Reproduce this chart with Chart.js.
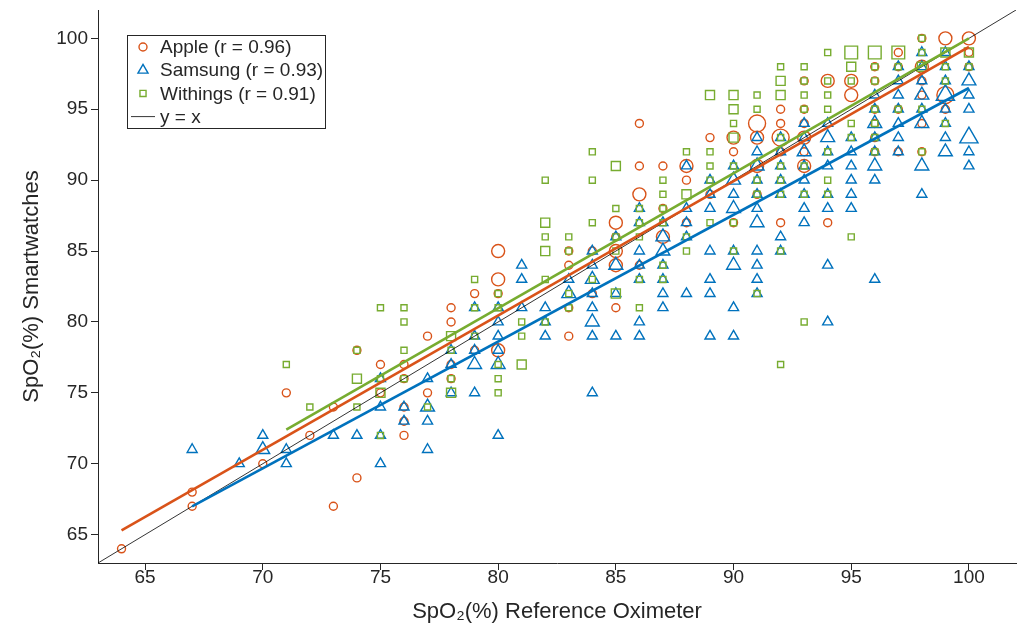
<!DOCTYPE html>
<html><head><meta charset="utf-8">
<script src="https://cdn.jsdelivr.net/npm/chart.js@4.4.0/dist/chart.umd.min.js"></script>
<style>html,body{margin:0;padding:0;background:#fff;} #wrap{width:1019px;height:633px;position:relative;}</style>
</head><body><div id="wrap"><canvas id="c" width="1019" height="633"></canvas></div>
<script>
// [reference SpO2, smartwatch SpO2, number of overlapping observations]
const apple = [
[64,64,1],[67,68,1],[67,67,1],[70,70,1],[71,75,1],[72,72,1],[73,74,1],[73,67,1],[74,78,1],[74,69,1],
[75,77,1],[75,75,1],[76,77,1],[76,76,1],[76,74,1],[76,73,1],[76,72,1],[77,79,1],[77,75,1],
[78,81,1],[78,80,1],[78,77,1],[78,76,1],[79,82,1],[79,78,1],[80,85,2],[80,83,2],[80,82,1],[80,78,2],
[83,85,1],[83,84,1],[83,81,1],[83,79,1],[84,85,1],[84,82,1],[85,87,2],[85,86,1],[85,85,2],[85,84,2],[85,81,1],
[86,94,1],[86,91,1],[86,89,2],[86,84,1],[87,91,1],[87,88,1],[87,86,2],[88,91,2],[88,90,1],[88,87,1],
[89,93,1],[89,89,1],[90,93,2],[90,92,1],[90,87,1],[91,94,3],[91,93,2],[91,91,2],[91,89,1],
[92,95,1],[92,94,1],[92,93,3],[92,92,1],[92,87,1],[93,97,1],[93,95,1],[93,94,1],[93,93,2],[93,92,1],[93,91,2],
[94,97,2],[94,87,1],[95,97,2],[95,96,2],[96,98,1],[96,97,1],[96,95,1],[96,94,1],[96,93,1],[96,92,1],
[97,99,1],[97,98,1],[97,95,1],[97,92,1],[98,100,1],[98,98,2],[98,97,1],[98,96,1],[98,94,1],[98,92,1],
[99,100,2],[99,96,3],[99,95,1],[100,100,2],[100,99,1],[100,98,1]
];
const samsung = [
[67,71,1],[69,70,1],[70,72,1],[70,71,2],[71,71,1],[71,70,1],[73,72,1],[74,72,1],
[75,76,1],[75,74,1],[75,72,1],[75,70,1],[76,74,1],[76,73,1],[77,76,1],[77,74,2],[77,73,1],[77,71,1],
[78,78,1],[78,77,1],[78,75,1],[79,81,1],[79,79,1],[79,78,1],[79,77,2],[79,75,1],
[80,81,1],[80,80,1],[80,79,1],[80,78,1],[80,77,2],[80,72,1],[81,84,1],[81,83,1],[81,81,1],
[82,81,1],[82,80,1],[82,79,1],[83,83,1],[83,82,2],
[84,85,1],[84,84,1],[84,83,2],[84,82,1],[84,81,1],[84,80,2],[84,79,1],[84,75,1],
[85,86,1],[85,84,2],[85,82,1],[85,79,1],
[86,88,1],[86,87,1],[86,85,1],[86,84,1],[86,83,1],[86,80,1],[86,79,1],
[87,87,1],[87,86,2],[87,85,2],[87,84,1],[87,83,1],[87,82,1],[87,81,1],
[88,91,1],[88,88,1],[88,87,1],[88,86,1],[88,82,1],
[89,90,1],[89,89,1],[89,88,1],[89,85,1],[89,83,1],[89,82,1],[89,79,1],
[90,91,1],[90,90,2],[90,89,1],[90,88,2],[90,85,1],[90,84,2],[90,81,1],[90,79,1],
[91,93,1],[91,92,1],[91,91,2],[91,90,1],[91,89,1],[91,88,1],[91,87,2],[91,85,1],[91,84,1],[91,83,1],[91,82,1],
[92,93,1],[92,92,1],[92,91,1],[92,90,1],[92,89,1],[92,86,1],[92,85,1],
[93,94,1],[93,93,1],[93,92,2],[93,91,1],[93,90,1],[93,89,1],[93,88,1],[93,87,1],
[94,94,1],[94,93,2],[94,92,1],[94,91,1],[94,89,1],[94,88,1],[94,84,1],[94,80,1],
[95,93,1],[95,92,1],[95,91,1],[95,90,1],[95,89,1],[95,88,1],
[96,96,1],[96,95,1],[96,94,2],[96,93,1],[96,92,1],[96,91,2],[96,90,1],[96,83,1],
[97,98,1],[97,97,1],[97,96,1],[97,95,1],[97,94,1],[97,93,1],[97,92,1],
[98,99,1],[98,98,1],[98,97,1],[98,96,2],[98,95,1],[98,94,2],[98,91,2],[98,89,1],
[99,99,1],[99,98,1],[99,97,1],[99,96,3],[99,95,1],[99,94,1],[99,93,1],[99,92,2],
[100,98,1],[100,97,2],[100,96,1],[100,95,1],[100,93,3],[100,92,1],[100,91,1]
];
const withings = [
[71,77,1],[72,74,1],[74,78,1],[74,76,2],[74,74,1],[75,81,1],[75,76,1],[75,75,2],[75,72,1],
[76,81,1],[76,80,1],[76,78,1],[76,76,1],[77,74,1],[78,79,2],[78,78,1],[78,76,1],[78,75,2],
[79,83,1],[79,81,1],[79,79,1],[80,82,1],[80,81,1],[80,77,1],[80,76,1],[80,75,1],
[81,80,1],[81,79,1],[81,77,2],[82,90,1],[82,87,2],[82,86,1],[82,85,2],[82,83,1],[82,80,1],
[83,86,1],[83,85,1],[83,82,1],[83,81,1],[84,92,1],[84,90,1],[84,87,1],[84,83,1],
[85,91,2],[85,88,1],[85,86,1],[85,85,1],[85,82,2],[86,88,1],[86,87,1],[86,86,1],[86,83,1],[86,81,1],
[87,90,1],[87,89,1],[87,88,1],[87,87,1],[87,84,1],[87,83,1],[88,92,1],[88,89,2],[88,86,1],[88,85,1],
[89,96,2],[89,92,1],[89,91,1],[89,90,1],[89,87,1],
[90,96,2],[90,95,2],[90,94,1],[90,93,2],[90,91,1],[90,87,1],[90,85,1],
[91,96,1],[91,95,1],[91,90,1],[91,89,1],[91,82,1],
[92,98,1],[92,97,2],[92,96,2],[92,93,1],[92,91,1],[92,90,1],[92,89,1],[92,85,1],[92,77,1],
[93,98,1],[93,97,1],[93,96,1],[93,95,1],[93,91,1],[93,89,1],[93,80,1],
[94,99,1],[94,97,1],[94,96,1],[94,95,1],[94,92,1],[94,90,1],[94,89,1],
[95,99,3],[95,98,2],[95,97,1],[95,94,1],[95,93,1],[95,86,1],
[96,99,3],[96,98,1],[96,97,1],[96,95,1],[96,94,1],[96,93,1],[96,92,1],
[97,99,3],[97,98,1],[97,95,1],[98,100,1],[98,99,1],[98,98,2],[98,95,1],[98,92,1],
[99,99,2],[99,98,1],[99,97,1],[99,94,1],[100,99,2],[100,98,1]
];
// fitted regression lines (end points)
const fitApple = [[64,65.3],[100,99.4]];
const fitSamsung = [[67,67.0],[100,96.5]];
const fitWithings = [[71,72.4],[100,100.0]];
const identityLine = [[63,63],[102,102]];
const xTicks = [65,70,75,80,85,90,95,100];
const yTicks = [65,70,75,80,85,90,95,100];
const seriesNames = ['Apple (r = 0.96)','Samsung (r = 0.93)','Withings (r = 0.91)','y = x'];

const C_APPLE = '#D95319', C_SAMSUNG = '#0072BD', C_WITHINGS = '#77AC30', C_AXIS = '#262626';
const FONT = "'Liberation Sans', Arial, Helvetica, sans-serif";
const sizeApple = [4, 6.5, 8.5], sizeSamsung = [5.8, 8, 10.5], sizeWithings = [4.3, 6.4, 9];

function pts(arr){ return arr.map(p => ({x:p[0], y:p[1], c:p[2]})); }
function line(arr){ return arr.map(p => ({x:p[0], y:p[1]})); }
function scatterSet(label, arr, style, color, sizes, order){
  return {type:'scatter', label, data:pts(arr), pointStyle:style, borderColor:color,
    backgroundColor:'rgba(0,0,0,0)', pointBorderWidth:1.4, borderWidth:1.4,
    pointRadius: ctx => sizes[(ctx.raw ? ctx.raw.c : 1) - 1], pointHoverRadius: ctx => sizes[(ctx.raw ? ctx.raw.c : 1) - 1], order};
}
function lineSet(label, arr, color, width, order){
  return {type:'line', label, data:line(arr), borderColor:color, backgroundColor:color,
    borderWidth:width, pointRadius:0, fill:false, tension:0, order};
}

const legendPlugin = {
  id:'boxLegend',
  afterDraw(chart){
    const ctx = chart.ctx;
    const x0 = 127, y0 = 35, w = 198, h = 93;
    ctx.save();
    ctx.fillStyle = '#fff'; ctx.fillRect(x0, y0, w, h);
    ctx.strokeStyle = C_AXIS; ctx.lineWidth = 1; ctx.strokeRect(x0 + 0.5, y0 + 0.5, w, h);
    const rows = [
      {style:'circle', color:C_APPLE, r:4},
      {style:'triangle', color:C_SAMSUNG, r:5.8},
      {style:'rect', color:C_WITHINGS, r:4.3},
      {style:null, color:'#000'}
    ];
    ctx.font = '19px ' + FONT; ctx.textBaseline = 'middle'; ctx.textAlign = 'left';
    rows.forEach((r, i) => {
      const cy = y0 + 12 + i * 23.2;
      if (r.style) {
        ctx.strokeStyle = r.color; ctx.fillStyle = 'rgba(0,0,0,0)'; ctx.lineWidth = 1.4;
        Chart.helpers.drawPoint(ctx, {pointStyle:r.style, radius:r.r, borderWidth:1.4, rotation:0}, x0 + 16, cy);
      } else {
        ctx.strokeStyle = '#000'; ctx.lineWidth = 0.8;
        ctx.beginPath(); ctx.moveTo(x0 + 4, cy); ctx.lineTo(x0 + 28, cy); ctx.stroke();
      }
      ctx.fillStyle = C_AXIS;
      ctx.fillText(seriesNames[i], x0 + 33, cy + 1);
    });
    ctx.restore();
  }
};

new Chart(document.getElementById('c'), {
  data: {
    datasets: [
      scatterSet(seriesNames[0], apple, 'circle', C_APPLE, sizeApple, 7),
      scatterSet(seriesNames[1], samsung, 'triangle', C_SAMSUNG, sizeSamsung, 6),
      scatterSet(seriesNames[2], withings, 'rect', C_WITHINGS, sizeWithings, 5),
      lineSet(seriesNames[3], identityLine, '#000', 0.8, 4),
      lineSet('Apple fit', fitApple, C_APPLE, 2.6, 2),
      lineSet('Samsung fit', fitSamsung, C_SAMSUNG, 2.6, 1),
      lineSet('Withings fit', fitWithings, C_WITHINGS, 2.6, 3)
    ]
  },
  options: {
    responsive:false, animation:false, devicePixelRatio:1,
    layout:{autoPadding:false, padding:{top:10, right:3, left:0, bottom:0}},
    plugins:{legend:{display:false}, tooltip:{enabled:false}},
    scales:{
      x:{type:'linear', min:63, max:102,
        afterBuildTicks: s => { s.ticks = xTicks.map(v => ({value:v})); },
        afterFit: s => { s.height = 70; s.paddingLeft = 0; s.paddingRight = 0; },
        grid:{display:true, drawOnChartArea:false, drawTicks:true, tickLength:7, color:C_AXIS, lineWidth:1},
        border:{display:true, color:C_AXIS, width:1},
        ticks:{color:C_AXIS, font:{family:FONT, size:19}, padding:-4, maxRotation:0, autoSkip:false},
        title:{display:true, text:'SpO₂(%) Reference Oximeter', color:C_AXIS, font:{family:FONT, size:22}, padding:{top:0, bottom:8}}
      },
      y:{type:'linear', min:63, max:102,
        afterBuildTicks: s => { s.ticks = yTicks.map(v => ({value:v})); },
        afterFit: s => { s.width = 98; s.paddingTop = 0; s.paddingBottom = 0; },
        grid:{display:true, drawOnChartArea:false, drawTicks:true, tickLength:7, color:C_AXIS, lineWidth:1},
        border:{display:true, color:C_AXIS, width:1},
        ticks:{color:C_AXIS, font:{family:FONT, size:19}, padding:3, autoSkip:false},
        title:{display:true, text:'SpO₂(%) Smartwatches', color:C_AXIS, font:{family:FONT, size:22}, padding:{top:19, bottom:0}}
      }
    }
  },
  plugins:[legendPlugin]
});
</script>
</body></html>
